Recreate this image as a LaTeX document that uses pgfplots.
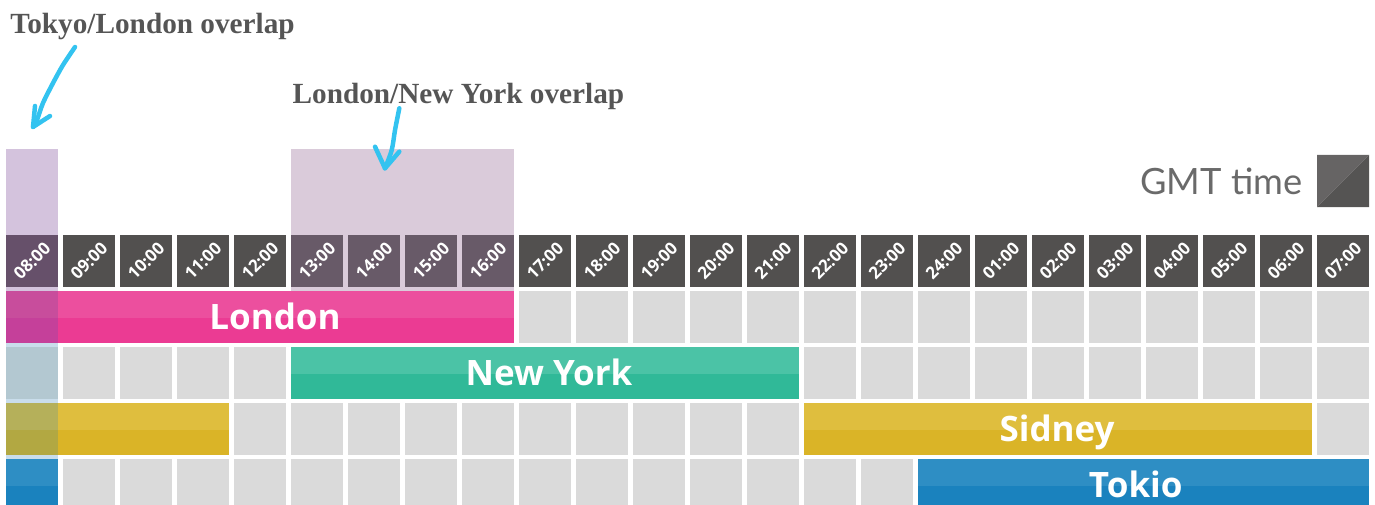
\documentclass[border=0pt]{standalone}
\usepackage{pgfplots}
\pgfplotsset{compat=1.18}
\usepackage{fontspec}
\setmainfont{Open Sans}
\newfontfamily\serifb{Liberation Serif}
\newfontfamily\latof{Lato}
\definecolor{cellgray}{HTML}{DADADA}
\definecolor{hdr}{HTML}{52504F}
\definecolor{hdrA}{HTML}{66506A}
\definecolor{hdrB}{HTML}{685A68}
\definecolor{ovA}{HTML}{D4C3DD}
\definecolor{ovAblue}{HTML}{C9DDEB}
\definecolor{ovB}{HTML}{DACBDA}
\definecolor{lonT}{HTML}{EC4F9E}
\definecolor{lonB}{HTML}{EB3B93}
\definecolor{lonzT}{HTML}{C84D9C}
\definecolor{lonzB}{HTML}{C5409A}
\definecolor{nyT}{HTML}{4BC3A6}
\definecolor{nyB}{HTML}{30B998}
\definecolor{nyz}{HTML}{B3C8D1}
\definecolor{sidT}{HTML}{DFBE3E}
\definecolor{sidB}{HTML}{DAB427}
\definecolor{sidzT}{HTML}{B5B05A}
\definecolor{sidzB}{HTML}{B2A842}
\definecolor{tokT}{HTML}{2E8EC4}
\definecolor{tokB}{HTML}{1A82BE}
\definecolor{txt}{HTML}{555555}
\definecolor{gmt}{HTML}{6A6A6A}
\definecolor{sqA}{HTML}{666464}
\definecolor{sqB}{HTML}{555453}
\definecolor{arrowc}{HTML}{33C3F0}
\tikzset{
  tl/.style={rotate=45, white, inner sep=0pt, anchor=center, font=\bfseries\fontsize{6.8}{7.5}\selectfont},
  bl/.style={white, inner sep=0pt, anchor=base, font=\bfseries\fontsize{14}{16}\selectfont},
}
% cell: col, row, colour
\newcommand\cell[3]{\addplot[fill=#3,draw=none] coordinates {(#1,#2) (#1.912,#2) (#1.912,#2.929) (#1,#2.929)} --cycle;}
% two-tone bar: row, x0, x1, top colour, bottom colour
\newcommand\sbar[5]{%
\addplot[fill=#4,draw=none] coordinates {(#2,#1) (#3,#1) (#3,#1.482) (#2,#1.482)} --cycle;
\addplot[fill=#5,draw=none] coordinates {(#2,#1.482) (#3,#1.482) (#3,#1.929) (#2,#1.929)} --cycle;}
\begin{document}
\begin{tikzpicture}
\begin{axis}[name=a, at={(0,0)}, anchor=south west,
  hide axis, x=22.8pt, y=22.4pt, y dir=reverse,
  xmin=-0.10526, xmax=24.0175, ymin=-4.19643, ymax=4.80357,
  clip=true,
]
% overlap backgrounds
\addplot[fill=ovA,draw=none] coordinates {(0,-1.536) (0.912,-1.536) (0.912,1.0) (0,1.0)} --cycle;
\addplot[fill=ovAblue,draw=none] coordinates {(0,1.0) (0.912,1.0) (0.912,4.9) (0,4.9)} --cycle;
\addplot[fill=ovB,draw=none] coordinates {(5,-1.536) (8.912,-1.536) (8.912,1.0) (5,1.0)} --cycle;
% grid cells
\pgfplotsinvokeforeach{0,...,23}{
  \cell{#1}{0}{hdr}
  \cell{#1}{1}{cellgray}
  \cell{#1}{2}{cellgray}
  \cell{#1}{3}{cellgray}
  \cell{#1}{4}{cellgray}
}
\cell{0}{0}{hdrA}
\cell{5}{0}{hdrB}
\cell{6}{0}{hdrB}
\cell{7}{0}{hdrB}
\cell{8}{0}{hdrB}
% sessions
\sbar{1}{0}{8.912}{lonT}{lonB}
\sbar{2}{5}{13.912}{nyT}{nyB}
\sbar{3}{0}{3.912}{sidT}{sidB}
\sbar{3}{14}{22.912}{sidT}{sidB}
\sbar{4}{0}{0.912}{tokT}{tokB}
\sbar{4}{16}{23.912}{tokT}{tokB}
% Tokyo/London overlap column
\sbar{1}{0}{0.912}{lonzT}{lonzB}
\cell{0}{2}{nyz}
\sbar{3}{0}{0.912}{sidzT}{sidzB}
% GMT legend square
\addplot[fill=sqA,draw=none] coordinates {(23,-1.429) (23.912,-1.429) (23,-0.5)} --cycle;
\addplot[fill=sqB,draw=none] coordinates {(23.912,-1.429) (23.912,-0.5) (23,-0.5)} --cycle;
% arrows
\addplot[arrowc, line width=1.8pt, smooth, line cap=round] coordinates {(1.211,-3.357) (1.0,-3.036) (0.825,-2.714) (0.649,-2.357) (0.544,-2.054) (0.474,-1.929)};
\addplot[arrowc, line width=1.8pt, line cap=round, line join=round] coordinates {(0.509,-2.304) (0.474,-1.929) (0.772,-2.125)};
\addplot[arrowc, line width=1.8pt, smooth, line cap=round] coordinates {(6.900,-2.263) (6.825,-1.875) (6.767,-1.518) (6.649,-1.191)};
\addplot[arrowc, line width=1.8pt, line cap=round, line join=round] coordinates {(6.474,-1.577) (6.649,-1.191) (6.900,-1.488)};
% header labels
\node[tl] at (axis cs:0.456,0.4645) {08:00};
\node[tl] at (axis cs:1.456,0.4645) {09:00};
\node[tl] at (axis cs:2.456,0.4645) {10:00};
\node[tl] at (axis cs:3.456,0.4645) {11:00};
\node[tl] at (axis cs:4.456,0.4645) {12:00};
\node[tl] at (axis cs:5.456,0.4645) {13:00};
\node[tl] at (axis cs:6.456,0.4645) {14:00};
\node[tl] at (axis cs:7.456,0.4645) {15:00};
\node[tl] at (axis cs:8.456,0.4645) {16:00};
\node[tl] at (axis cs:9.456,0.4645) {17:00};
\node[tl] at (axis cs:10.456,0.4645) {18:00};
\node[tl] at (axis cs:11.456,0.4645) {19:00};
\node[tl] at (axis cs:12.456,0.4645) {20:00};
\node[tl] at (axis cs:13.456,0.4645) {21:00};
\node[tl] at (axis cs:14.456,0.4645) {22:00};
\node[tl] at (axis cs:15.456,0.4645) {23:00};
\node[tl] at (axis cs:16.456,0.4645) {24:00};
\node[tl] at (axis cs:17.456,0.4645) {01:00};
\node[tl] at (axis cs:18.456,0.4645) {02:00};
\node[tl] at (axis cs:19.456,0.4645) {03:00};
\node[tl] at (axis cs:20.456,0.4645) {04:00};
\node[tl] at (axis cs:21.456,0.4645) {05:00};
\node[tl] at (axis cs:22.456,0.4645) {06:00};
\node[tl] at (axis cs:23.456,0.4645) {07:00};
% session labels
\node[bl] at (axis cs:4.719,1.679) {London};
\node[bl] at (axis cs:9.526,2.679) {New York};
\node[bl] at (axis cs:18.44,3.679) {Sidney};
\node[bl] at (axis cs:19.82,4.679) {Tokio};
% titles
\node[anchor=base west, inner sep=0pt, text=txt, font=\serifb\bfseries\fontsize{11.7}{13}\selectfont] at (axis cs:0.07,-3.607) {Tokyo/London overlap};
\node[anchor=base west, inner sep=0pt, text=txt, font=\serifb\bfseries\fontsize{11.7}{13}\selectfont] at (axis cs:5.02,-2.34) {London/New York overlap};
\node[anchor=base east, inner sep=0pt, text=gmt, font=\latof\fontsize{14.5}{16}\selectfont] at (axis cs:22.754,-0.732) {GMT time};
\end{axis}
\pgfresetboundingbox
\path (a.south west) rectangle (a.north east);
\end{tikzpicture}
\end{document}
